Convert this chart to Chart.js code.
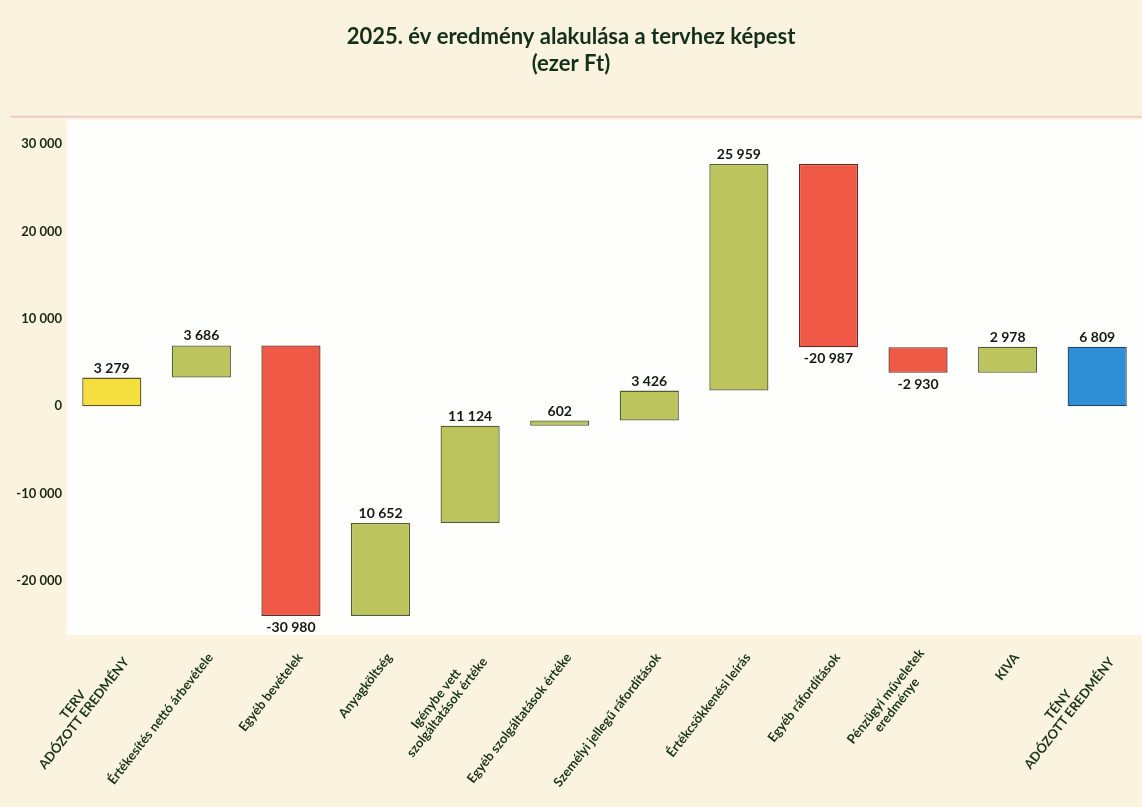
<!DOCTYPE html>
<html>
<head>
<meta charset="utf-8">
<script src="https://cdn.jsdelivr.net/npm/chart.js@4.4.1/dist/chart.umd.min.js"></script>
<style>
  html, body { margin: 0; padding: 0; background: #f9f3df; }
  #wrap { width: 1142px; height: 807px; }
</style>
</head>
<body>
<div id="wrap"><canvas id="c" width="1142" height="807"></canvas></div>
<script>
// ---- data ----
const categories = [
  ['TERV', 'ADÓZOTT EREDMÉNY'],
  ['Értékesítés nettó árbevétele'],
  ['Egyéb bevételek'],
  ['Anyagköltség'],
  ['Igénybe vett', 'szolgáltatások értéke'],
  ['Egyéb szolgáltatások értéke'],
  ['Személyi jellegű ráfordítások'],
  ['Értékcsökkenési leírás'],
  ['Egyéb ráfordítások'],
  ['Pénzügyi műveletek', 'eredménye'],
  ['KIVA'],
  ['TÉNY', 'ADÓZOTT EREDMÉNY']
];
const changes = [3279, 3686, -30980, 10652, 11124, 602, 3426, 25959, -20987, -2930, 2978, 6809];
const barKinds = ['start', 'step', 'step', 'step', 'step', 'step', 'step', 'step', 'step', 'step', 'step', 'total'];
const yTicks = [-20000, -10000, 0, 10000, 20000, 30000];
const yMin = -26200, yMax = 32800;
const titleLines = ['2025. év eredmény alakulása a tervhez képest', '(ezer Ft)'];

// ---- waterfall ranges ----
const ranges = [];
let running = 0;
changes.forEach((v, i) => {
  if (barKinds[i] === 'start' || barKinds[i] === 'total') {
    ranges.push([0, v]); running = v;
  } else {
    ranges.push([running, running + v]); running += v;
  }
});
const colors = changes.map((v, i) => barKinds[i] === 'start' ? '#f4df3e' :
  barKinds[i] === 'total' ? '#2f8ed6' : (v >= 0 ? '#bcc55d' : '#ef5845'));
const borders = changes.map((v, i) => barKinds[i] === 'start' ? '#5e5620' :
  barKinds[i] === 'total' ? '#1d4868' : (v >= 0 ? '#4f5e30' : '#66281e'));

function fmt(v) {
  const s = Math.abs(Math.round(v)).toString().replace(/\B(?=(\d{3})+(?!\d))/g, ' ');
  return (v < 0 ? '-' : '') + s;
}

const bgPlugin = {
  id: 'bg',
  beforeDraw(chart) {
    const { ctx, chartArea: a } = chart;
    ctx.save();
    ctx.fillStyle = '#f9f3df';
    ctx.fillRect(0, 0, chart.width, chart.height);
    ctx.fillStyle = '#fefefc';
    ctx.fillRect(a.left, a.top, a.right - a.left, a.bottom - a.top);
    ctx.strokeStyle = 'rgba(236,170,185,0.55)';
    ctx.lineWidth = 2;
    ctx.beginPath();
    ctx.moveTo(10, a.top - 3);
    ctx.lineTo(chart.width, a.top - 3);
    ctx.stroke();
    ctx.restore();
  }
};

const valueLabels = {
  id: 'valueLabels',
  afterDatasetsDraw(chart) {
    const { ctx } = chart;
    const meta = chart.getDatasetMeta(0);
    ctx.save();
    ctx.font = 'bold 14px Lato, "Open Sans", sans-serif';
    ctx.fillStyle = '#141a10';
    ctx.textAlign = 'center';
    ctx.textBaseline = 'alphabetic';
    meta.data.forEach((bar, i) => {
      const top = Math.min(bar.y, bar.base);
      const bottom = Math.max(bar.y, bar.base);
      if (changes[i] >= 0) {
        ctx.fillText(fmt(changes[i]), bar.x, top - 5);
      } else {
        ctx.fillText(fmt(changes[i]), bar.x, bottom + 16);
      }
    });
    ctx.restore();
  }
};

const xLabels = {
  id: 'xLabels',
  afterDraw(chart) {
    const { ctx } = chart;
    const xs = chart.scales.x;
    const ang = -52 * Math.PI / 180;
    const lh = 14;
    ctx.save();
    ctx.font = 'bold 13px Lato, "Open Sans", sans-serif';
    ctx.fillStyle = '#1a3518';
    ctx.textBaseline = 'middle';
    ctx.textAlign = 'center';
    categories.forEach((lines, i) => {
      const px = xs.getPixelForValue(i) + 9;
      const py = chart.chartArea.bottom + 20;
      const w = Math.max(...lines.map(l => ctx.measureText(l).width));
      ctx.save();
      ctx.translate(px, py);
      ctx.rotate(ang);
      lines.forEach((l, k) => {
        ctx.fillText(l, -w / 2, (k - (lines.length - 1) / 2) * lh);
      });
      ctx.restore();
    });
    ctx.restore();
  }
};

new Chart(document.getElementById('c'), {
  type: 'bar',
  data: {
    labels: categories.map(l => l.join(' ')),
    datasets: [{
      data: ranges,
      backgroundColor: colors,
      borderColor: borders,
      borderWidth: 1.3,
      borderSkipped: false,
      barPercentage: 0.66,
      categoryPercentage: 1
    }]
  },
  options: {
    responsive: false,
    animation: false,
    layout: { padding: { left: 0, right: 0, top: 0, bottom: 0 } },
    plugins: {
      legend: { display: false },
      tooltip: { enabled: false },
      title: {
        display: true,
        text: titleLines,
        color: '#15301a',
        font: { family: 'Lato, "Open Sans", sans-serif', size: 22, weight: 'bold', lineHeight: 1.2 },
        padding: { top: 24, bottom: 43 }
      }
    },
    scales: {
      x: {
        grid: { display: false },
        border: { display: false },
        ticks: { display: false },
        afterFit(scale) { scale.height = 172; }
      },
      y: {
        min: yMin,
        max: yMax,
        grid: { display: false, drawTicks: false },
        border: { display: false },
        afterBuildTicks(scale) { scale.ticks = yTicks.map(v => ({ value: v })); },
        afterFit(scale) { scale.width = 67; },
        ticks: {
          color: '#1c2a12',
          padding: 5,
          font: { family: 'Lato, "Open Sans", sans-serif', size: 13, weight: 'bold' },
          callback: (v) => fmt(v)
        }
      }
    }
  },
  plugins: [bgPlugin, valueLabels, xLabels]
});
</script>
</body>
</html>
